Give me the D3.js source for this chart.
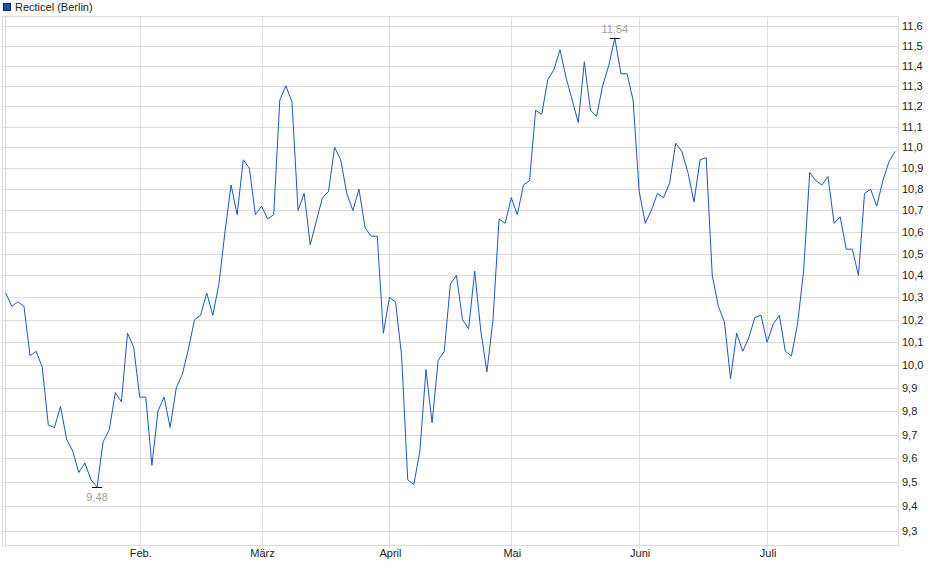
<!DOCTYPE html>
<html>
<head>
<meta charset="utf-8">
<script src="https://cdn.jsdelivr.net/npm/d3@7"></script>
<style>
  body { margin: 0; background: #fff; }
  text { font-family: "Liberation Sans", Arial, sans-serif; }
</style>
</head>
<body>
<div id="chart"></div>
<script>
  // Closing prices, one per trading day.
  var prices = [
    10.32, 10.26, 10.28, 10.26, 10.04, 10.06, 9.99, 9.74, 9.73, 9.82,
    9.68, 9.63, 9.54, 9.58, 9.51, 9.48, 9.67, 9.72, 9.88, 9.84,
    10.14, 10.08, 9.86, 9.86, 9.57, 9.80, 9.86, 9.73, 9.90, 9.96,
    10.07, 10.20, 10.22, 10.32, 10.22, 10.36, 10.60, 10.82, 10.68,
    10.94, 10.90, 10.68, 10.72, 10.66, 10.68, 11.23, 11.30, 11.22, 10.70,
    10.78, 10.54, 10.65, 10.76, 10.79, 11.00, 10.94, 10.78, 10.70, 10.80,
    10.62, 10.58, 10.58, 10.14, 10.30, 10.28, 10.04, 9.51, 9.49, 9.63,
    9.98, 9.75, 10.02, 10.06, 10.36, 10.40, 10.20, 10.16, 10.42, 10.15,
    9.97, 10.20, 10.66, 10.64, 10.76, 10.68, 10.82, 10.84, 11.18, 11.16,
    11.33, 11.38, 11.48, 11.34, 11.23, 11.12, 11.42, 11.18, 11.15, 11.30,
    11.40, 11.54, 11.36, 11.36, 11.23, 10.79, 10.64, 10.70, 10.78, 10.76,
    10.83, 11.02, 10.98, 10.88, 10.74, 10.94, 10.95, 10.40, 10.26, 10.19,
    9.94, 10.14, 10.06, 10.12, 10.21, 10.22, 10.10, 10.18, 10.22, 10.06,
    10.04, 10.18, 10.42, 10.88, 10.84, 10.82, 10.86, 10.64, 10.67, 10.52,
    10.52, 10.40, 10.78, 10.80, 10.72, 10.84, 10.93, 10.98
  ];

  // Month labels and the trading-day index where each month starts.
  var months = ['Feb.', 'März', 'April', 'Mai', 'Juni', 'Juli'];
  var monthIdx = [22, 42, 63, 83, 104, 125];

  // Price axis ticks.
  var yTicks = [9.3, 9.4, 9.5, 9.6, 9.7, 9.8, 9.9, 10.0, 10.1, 10.2, 10.3, 10.4,
    10.5, 10.6, 10.7, 10.8, 10.9, 11.0, 11.1, 11.2, 11.3, 11.4, 11.5, 11.6];

  var seriesName = 'Recticel (Berlin)';

  var width = 940,
    height = 579;

  var plot = { left: 3, top: 16, right: 898, bottom: 545 };

  var gridColor = '#dcdcdc',
    lineColor = '#1a57c4',
    textColor = '#222';

  var de = d3.formatLocale({ decimal: ',', thousands: '.', grouping: [3], currency: ['', ' €'] });
  var fmt1 = de.format('.1f'),
    fmt2 = de.format('.2f');

  var svg = d3.select('#chart')
    .append('svg')
    .attr('width', width)
    .attr('height', height);

  // Scales: index based x, logarithmic y.
  var xScale = d3.scaleLinear()
    .domain([0, prices.length - 1])
    .range([5.7, 895]);

  var yScale = d3.scaleLog()
    .domain([9.3, 11.6])
    .range([530.7, 26]);

  // Horizontal grid lines.
  svg.append('g')
    .selectAll('line')
    .data(yTicks)
    .enter()
    .append('line')
    .attr('x1', plot.left)
    .attr('x2', plot.right)
    .attr('y1', function(d) { return Math.round(yScale(d)) + 0.5; })
    .attr('y2', function(d) { return Math.round(yScale(d)) + 0.5; })
    .attr('stroke', gridColor);

  // Vertical month lines, with a little tick under the axis.
  svg.append('g')
    .selectAll('line')
    .data(monthIdx)
    .enter()
    .append('line')
    .attr('x1', function(d) { return Math.round(xScale(d)) + 0.5; })
    .attr('x2', function(d) { return Math.round(xScale(d)) + 0.5; })
    .attr('y1', plot.top)
    .attr('y2', plot.bottom + 4)
    .attr('stroke', gridColor);

  // Plot frame plus the inner left line.
  svg.append('rect')
    .attr('x', plot.left - 0.5)
    .attr('y', plot.top + 0.5)
    .attr('width', plot.right - plot.left + 1)
    .attr('height', plot.bottom - plot.top)
    .attr('fill', 'none')
    .attr('stroke', gridColor);

  svg.append('line')
    .attr('x1', 5.5).attr('x2', 5.5)
    .attr('y1', plot.top).attr('y2', plot.bottom)
    .attr('stroke', gridColor);

  // Y axis labels on the right.
  svg.append('g')
    .selectAll('text')
    .data(yTicks)
    .enter()
    .append('text')
    .attr('x', 902)
    .attr('y', function(d) { return yScale(d) + 4; })
    .attr('font-size', 11)
    .attr('fill', textColor)
    .text(function(d) { return fmt1(d); });

  // Month labels.
  svg.append('g')
    .selectAll('text')
    .data(months)
    .enter()
    .append('text')
    .attr('x', function(d, i) { return xScale(monthIdx[i]) + 1; })
    .attr('y', 557)
    .attr('text-anchor', 'middle')
    .attr('font-size', 11)
    .attr('fill', textColor)
    .text(function(d) { return d; });

  // The price line.
  var line = d3.line()
    .x(function(d, i) { return xScale(i); })
    .y(function(d) { return yScale(d); });

  svg.append('path')
    .datum(prices)
    .attr('d', line)
    .attr('fill', 'none')
    .attr('stroke', lineColor)
    .attr('stroke-width', 1);

  // High and low markers.
  var hiIdx = d3.maxIndex(prices),
    loIdx = d3.minIndex(prices);

  var marks = [
    { i: hiIdx, v: prices[hiIdx], dy: -5 },
    { i: loIdx, v: prices[loIdx], dy: 14 }
  ];

  var mk = svg.append('g')
    .selectAll('g')
    .data(marks)
    .enter()
    .append('g');

  mk.append('line')
    .attr('x1', function(d) { return xScale(d.i) - 5; })
    .attr('x2', function(d) { return xScale(d.i) + 5; })
    .attr('y1', function(d) { return Math.round(yScale(d.v)) + 0.5; })
    .attr('y2', function(d) { return Math.round(yScale(d.v)) + 0.5; })
    .attr('stroke', '#000');

  mk.append('text')
    .attr('x', function(d) { return xScale(d.i); })
    .attr('y', function(d) { return yScale(d.v) + d.dy; })
    .attr('text-anchor', 'middle')
    .attr('font-size', 11)
    .attr('fill', '#a39d97')
    .text(function(d) { return fmt2(d.v); });

  // Legend in the top left corner.
  svg.append('rect')
    .attr('x', 3.5)
    .attr('y', 3.5)
    .attr('width', 7)
    .attr('height', 7)
    .attr('fill', '#1a4fb8')
    .attr('stroke', '#0b2a66');

  svg.append('text')
    .attr('x', 15)
    .attr('y', 11)
    .attr('font-size', 11)
    .attr('fill', textColor)
    .text(seriesName);
</script>
</body>
</html>
